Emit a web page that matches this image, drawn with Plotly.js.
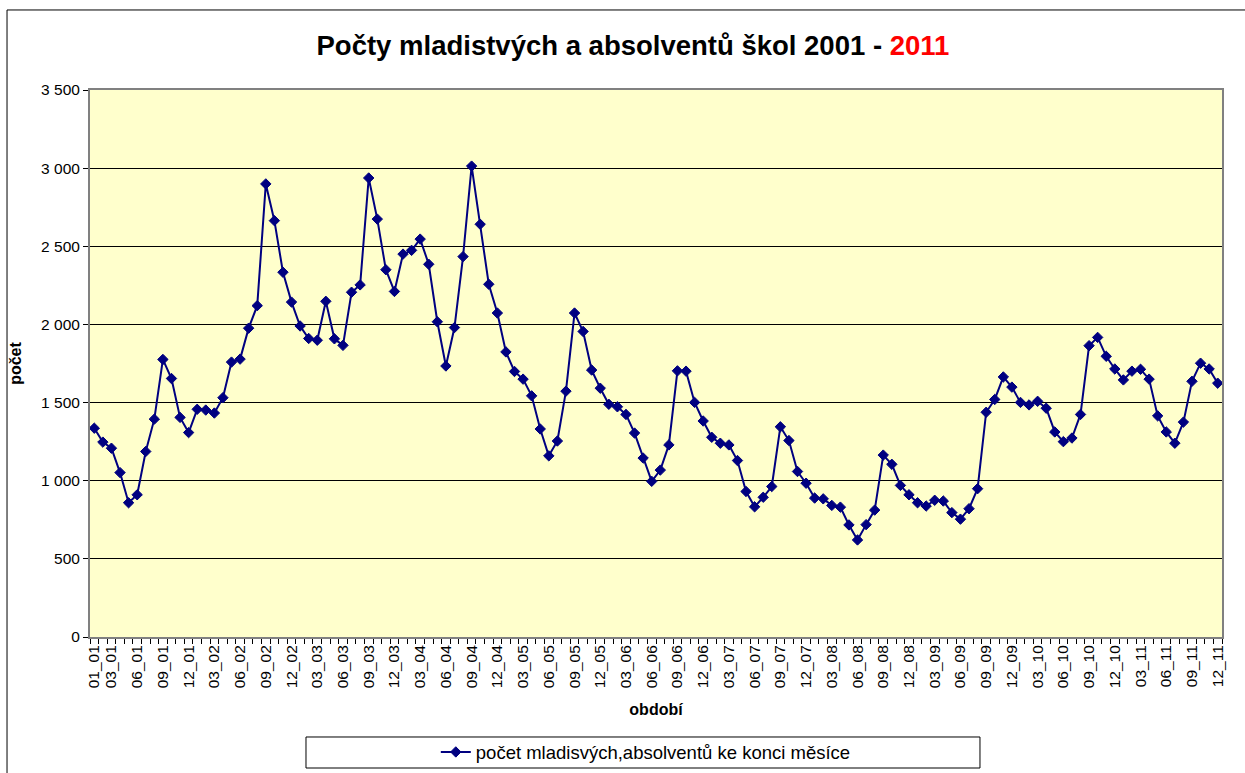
<!DOCTYPE html>
<html>
<head>
<meta charset="utf-8">
<script src="https://cdn.plot.ly/plotly-3.0.1.min.js"></script>
<style>
html, body { margin: 0; padding: 0; background: #ffffff; }
#chart { width: 1245px; height: 773px; }
</style>
</head>
<body>
<div id="chart"></div>
<script>
// Category parts
var years = ['01','02','03','04','05','06','07','08','09','10','11'];
var months = ['01','02','03','04','05','06','07','08','09','10','11','12'];
var labeledMonths = ['03','06','09','12'];

// Monthly values per year (počet mladistvých a absolventů ke konci měsíce)
var y2001 = [1336, 1247, 1208, 1052, 859, 910, 1187, 1394, 1776, 1654, 1405, 1308];
var y2002 = [1457, 1452, 1433, 1531, 1759, 1778, 1976, 2120, 2899, 2664, 2334, 2143];
var y2003 = [1990, 1910, 1899, 2148, 1908, 1866, 2206, 2253, 2937, 2674, 2350, 2211];
var y2004 = [2450, 2474, 2546, 2385, 2017, 1734, 1980, 2434, 3013, 2641, 2257, 2073];
var y2005 = [1824, 1699, 1650, 1543, 1331, 1159, 1254, 1573, 2073, 1955, 1708, 1592];
var y2006 = [1489, 1473, 1424, 1305, 1145, 996, 1068, 1229, 1703, 1701, 1501, 1382];
var y2007 = [1278, 1240, 1229, 1129, 931, 833, 894, 963, 1345, 1257, 1059, 984];
var y2008 = [889, 884, 842, 831, 717, 621, 719, 812, 1164, 1105, 970, 910];
var y2009 = [859, 838, 875, 870, 796, 754, 821, 949, 1438, 1520, 1664, 1599];
var y2010 = [1501, 1485, 1508, 1464, 1312, 1250, 1273, 1424, 1864, 1917, 1796, 1715];
var y2011 = [1645, 1701, 1713, 1650, 1415, 1312, 1240, 1375, 1636, 1752, 1715, 1624];

var yTicks = [0, 500, 1000, 1500, 2000, 2500, 3000, 3500];
var seriesName = 'počet mladisvých,absolventů ke konci měsíce';

var yearly = [y2001, y2002, y2003, y2004, y2005, y2006, y2007, y2008, y2009, y2010, y2011];
var categories = [];
var values = [];
var tickText = [];
years.forEach(function (yy, i) {
  months.forEach(function (mm, j) {
    var c = mm + '_' + yy;
    categories.push(c);
    values.push(yearly[i][j]);
    var show = (categories.length === 1) || labeledMonths.indexOf(mm) >= 0;
    tickText.push(show ? c : '');
  });
});

var FONT = '"Liberation Sans", Arial, Helvetica, sans-serif';
var navy = '#000080';

var trace = {
  type: 'scatter',
  mode: 'lines+markers',
  x: categories,
  y: values,
  name: seriesName,
  line: { color: navy, width: 2 },
  marker: { symbol: 'diamond', size: 8, color: navy, line: { color: navy, width: 1 } },
  showlegend: true
};

var layout = {
  width: 1245,
  height: 773,
  autosize: false,
  margin: { l: 90, r: 23, t: 90, b: 136, autoexpand: false },
  paper_bgcolor: '#ffffff',
  plot_bgcolor: '#FFFFCC',
  separators: ', ',
  font: { family: FONT, color: '#000000', size: 15 },
  title: {
    text: 'Počty mladistvých a absolventů škol 2001 - <span style="color:#ff0000">2011</span>',
    font: { family: FONT, size: 27.5, weight: 'bold', color: '#000000' },
    xref: 'container', yref: 'container',
    x: 0.5084, xanchor: 'center',
    y: 0.9418, yanchor: 'middle'
  },
  xaxis: {
    type: 'category',
    automargin: false,
    range: [-0.5, categories.length - 0.5],
    tickmode: 'array',
    tickvals: categories,
    ticktext: tickText,
    tickangle: -90,
    tickson: 'boundaries',
    ticks: 'outside',
    ticklen: 5,
    tickcolor: '#000000',
    tickfont: { family: FONT, size: 15.5, color: '#000000' },
    showgrid: false,
    showline: true,
    linecolor: '#808080',
    linewidth: 2,
    mirror: true,
    zeroline: false,
    title: { text: 'období', font: { family: FONT, size: 16, weight: 'bold' }, standoff: 16 }
  },
  yaxis: {
    automargin: false,
    range: [0, 3500],
    tickmode: 'array',
    tickvals: yTicks,
    tickformat: ',d',
    ticks: 'outside',
    ticklen: 5,
    tickcolor: '#000000',
    tickfont: { family: FONT, size: 15.5, color: '#000000' },
    showgrid: true,
    gridcolor: '#000000',
    gridwidth: 1,
    showline: true,
    linecolor: '#808080',
    linewidth: 2,
    mirror: true,
    zeroline: false,
    title: { text: 'počet', font: { family: FONT, size: 16, weight: 'bold' }, standoff: 16 }
  },
  legend: {
    orientation: 'h',
    x: 0.491, xanchor: 'center',
    y: -0.211, yanchor: 'middle',
    font: { family: FONT, size: 18.5, color: '#000000' },
    bgcolor: 'rgba(0,0,0,0)',
    borderwidth: 0
  },
  shapes: [
    { type: 'rect', xref: 'paper', yref: 'paper',
      x0: -0.0733, x1: 1.03, y0: -0.27, y1: 1.1463,
      line: { color: '#000000', width: 1 }, fillcolor: 'rgba(0,0,0,0)', layer: 'below' },
    { type: 'rect', xref: 'paper', yref: 'paper',
      x0: 0.1908, x1: 0.7862, y0: -0.2395, y1: -0.1828,
      line: { color: '#000000', width: 1 }, fillcolor: 'rgba(0,0,0,0)', layer: 'above' }
  ]
};

Plotly.newPlot('chart', [trace], layout, { displayModeBar: false, staticPlot: true });
</script>
</body>
</html>
